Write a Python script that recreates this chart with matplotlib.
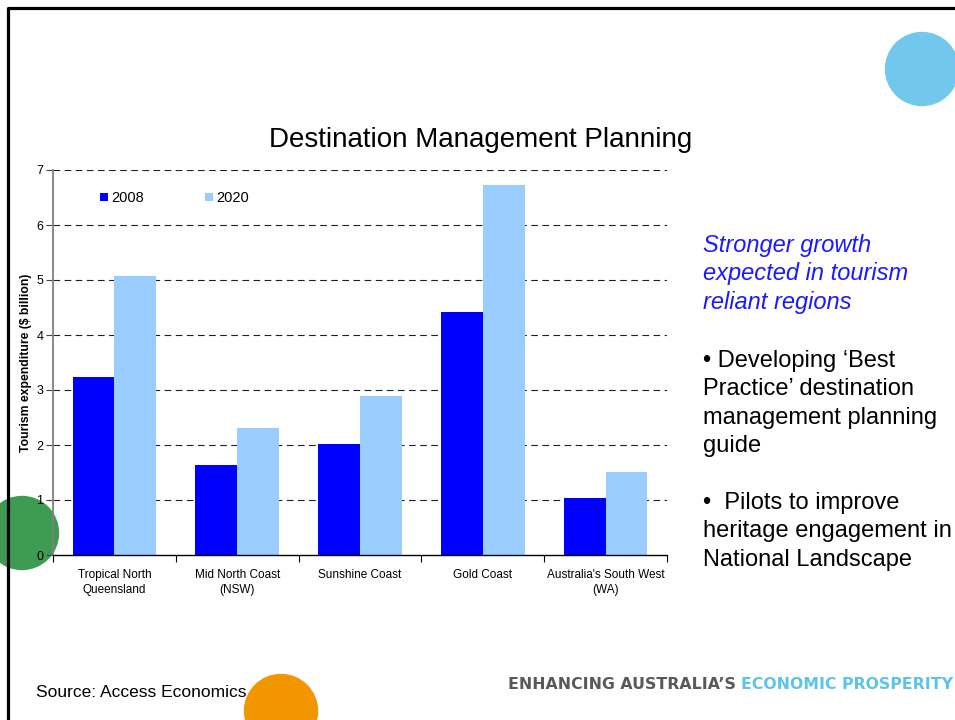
import matplotlib
matplotlib.use("Agg")

import matplotlib.pyplot as plt
from matplotlib.patches import Circle
import numpy as np

plt.rcParams["font.family"] = ["Liberation Sans", "DejaVu Sans"]

# chart data
regions = ["Tropical North\nQueensland", "Mid North Coast\n(NSW)", "Sunshine Coast",
           "Gold Coast", "Australia's South West\n(WA)"]
years = ["2008", "2020"]
spend_2008 = [3.24, 1.64, 2.02, 4.42, 1.04]
spend_2020 = [5.07, 2.31, 2.89, 6.73, 1.51]
yticks = [0, 1, 2, 3, 4, 5, 6, 7]

title = "Destination Management Planning"
ylabel = "Tourism expenditure ($ billion)"
headline = ["Stronger growth", "expected in tourism", "reliant regions"]
bullet1 = ["\u2022 Developing \u2018Best", "Practice\u2019 destination",
           "management planning", "guide"]
bullet2 = ["\u2022  Pilots to improve", "heritage engagement in", "National Landscape"]
source = "Source: Access Economics"

W, H = 955, 720
fig = plt.figure(figsize=(W / 100, H / 100), dpi=100)

# background layer in pixel coordinates (circles, border, slide text)
bg = fig.add_axes([0, 0, 1, 1], zorder=0)
bg.set_xlim(0, W)
bg.set_ylim(H, 0)
bg.axis("off")

bg.add_patch(Circle((922, 69), 36.5, color="#72c8ec", zorder=1))
bg.add_patch(Circle((22, 533), 36.5, color="#3d9c52", zorder=1))
bg.add_patch(Circle((281, 711), 36.5, color="#f29600", zorder=1))
bg.plot([7.5, 7.5, W], [H, 7.5, 7.5], color="black", lw=2.3, zorder=2,
        solid_capstyle="projecting")

bg.text(481, 147, title, fontsize=20, ha="center", va="baseline", zorder=3)

y = 252
for line in headline:
    bg.text(703, y, line, fontsize=17, style="italic", color="#1a1aff",
            va="baseline", zorder=3)
    y += 28.3
y = 367
for line in bullet1:
    bg.text(703, y, line, fontsize=17, va="baseline", zorder=3)
    y += 28.3
y = 509
for line in bullet2:
    bg.text(703, y, line, fontsize=17, va="baseline", zorder=3)
    y += 28.3

bg.text(36, 697, source, fontsize=12.5, va="baseline", zorder=3)
t1 = bg.text(508, 689, "ENHANCING AUSTRALIA\u2019S ", fontsize=11.3, fontweight="bold",
             family="DejaVu Sans", color="#58595b", va="baseline", zorder=3)
bg.annotate("ECONOMIC PROSPERITY", xy=(1, 0), xycoords=t1, va="bottom",
            fontsize=11.3, fontweight="bold", family="DejaVu Sans",
            color="#5bc4e8", zorder=3)

# chart axes
left, right, y0, y7 = 53, 667, 555, 170
ax = fig.add_axes([left / W, (H - y0) / H, (right - left) / W, (y0 - y7) / H], zorder=1)
ax.patch.set_alpha(0)

x = np.arange(len(regions))
bw = 0.34
ax.bar(x - bw / 2, spend_2008, bw, color="#0000ff", label=years[0], zorder=2)
ax.bar(x + bw / 2, spend_2020, bw, color="#99ccff", label=years[1], zorder=2)

ax.set_xlim(-0.5, len(regions) - 0.5)
ax.set_ylim(0, 7)
ax.set_yticks(yticks)
ax.tick_params(axis="y", labelsize=9, length=5, width=0.8, color="#404040", pad=2)
ax.set_xticks(np.arange(len(regions) + 1) - 0.5)
ax.set_xticklabels([])
ax.set_xticks(x, minor=True)
ax.set_xticklabels(regions, minor=True, fontsize=8.5, linespacing=1.4)
ax.tick_params(axis="x", which="major", length=5, width=0.8)
ax.tick_params(axis="x", which="minor", length=0, pad=10)

for v in yticks[1:]:
    ax.axhline(v, color="#202020", lw=0.8, ls=(0, (6, 4)), zorder=1)

for s in ["top", "right"]:
    ax.spines[s].set_visible(False)
ax.spines["left"].set_color("#808080")
ax.spines["left"].set_linewidth(1.3)
ax.spines["bottom"].set_color("black")
ax.spines["bottom"].set_linewidth(1.0)

ax.set_ylabel(ylabel, fontsize=8.8, fontweight="bold", labelpad=3)

ax.legend(loc="center left", bbox_to_anchor=(0.0765, 0.927), ncol=2, frameon=False,
          fontsize=10.5, handlelength=0.55, handleheight=0.55, handletextpad=0.2,
          columnspacing=4.2, borderpad=0, borderaxespad=0)

fig.savefig("out.png", dpi=100)
